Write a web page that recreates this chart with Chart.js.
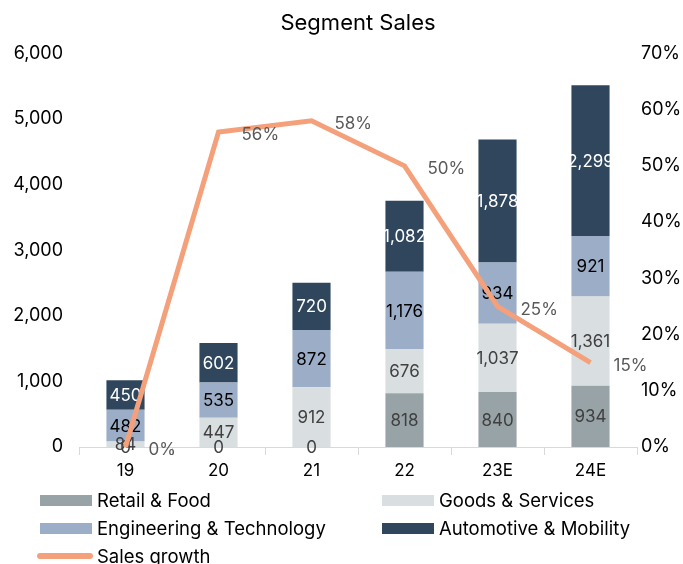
<!DOCTYPE html>
<html>
<head>
<meta charset="utf-8">
<script src="https://cdn.jsdelivr.net/npm/chart.js@4.4.1/dist/chart.umd.min.js"></script>
<style>
body { margin: 0; background: #fff; font-family: Inter, sans-serif; }
#div_canva { position: relative; width: 683px; height: 564px; }
.leg { position: absolute; font-size: 18.5px; color: #000; line-height: 22px; white-space: nowrap; }
.leg span { position: absolute; left: 0; }
</style>
</head>
<body>
<div id="div_canva">
  <canvas id="myChart"></canvas>
  <div id="legenda"></div>
</div>
<script>
const anos = ['19', '20', '21', '22', '23E', '24E'];
const varejo = [0, 0, 0, 818, 840, 934];
const bensServicos = [84, 447, 912, 676, 1037, 1361];
const engenharia = [482, 535, 872, 1176, 934, 921];
const automotivo = [450, 602, 720, 1082, 1878, 2299];
const crescimento = [0, 56, 58, 50, 25, 15];
const ticksVendas = [0, 1000, 2000, 3000, 4000, 5000, 6000];
const ticksCresc = [0, 10, 20, 30, 40, 50, 60, 70];

const fonte = 'Inter';

// desenha os valores dentro das barras e ao lado da linha
const rotulos = {
  id: 'rotulos',
  afterDatasetDraw(chart, args) {
    const ctx = chart.ctx;
    const ds = chart.data.datasets[args.index];
    ctx.save();
    ctx.font = `17px ${fonte}`;
    ctx.textBaseline = 'middle';
    args.meta.data.forEach((el, j) => {
      const v = ds.data[j];
      if (ds.type === 'line') {
        ctx.textAlign = 'left';
        ctx.fillStyle = '#595959';
        ctx.fillText(v + '%', el.x + 23, el.y + 3);
      } else {
        ctx.textAlign = 'center';
        ctx.fillStyle = ds.corRotulo;
        ctx.fillText(v.toLocaleString('en-US'), el.x, (el.y + el.base) / 2 + 1);
      }
    });
    ctx.restore();
  }
};

const ctx = document.getElementById('myChart');

new Chart(ctx, {
  type: 'bar',
  data: {
    labels: anos,
    datasets: [
      { label: 'Retail & Food', data: varejo, backgroundColor: '#97a3a6', corRotulo: '#404040', yAxisID: 'y', order: 1 },
      { label: 'Goods & Services', data: bensServicos, backgroundColor: '#d9dee0', corRotulo: '#404040', yAxisID: 'y', order: 1 },
      { label: 'Engineering & Technology', data: engenharia, backgroundColor: '#9cadc7', corRotulo: '#000000', yAxisID: 'y', order: 1 },
      { label: 'Automotive & Mobility', data: automotivo, backgroundColor: '#2f465d', corRotulo: '#ffffff', yAxisID: 'y', order: 1 },
      {
        type: 'line', label: 'Sales growth', data: crescimento, yAxisID: 'y1',
        borderColor: '#f4a07b', borderWidth: 5, pointRadius: 0, tension: 0, order: 0
      }
    ]
  },
  options: {
    responsive: true,
    maintainAspectRatio: false,
    animation: false,
    barPercentage: 0.41,
    categoryPercentage: 1,
    layout: { padding: { bottom: 79 } },
    scales: {
      x: {
        stacked: true,
        afterFit: s => { s.height = 38; },
        grid: { display: true, drawOnChartArea: false, drawTicks: true, tickLength: 8, color: '#d9d9d9', offset: true },
        border: { color: '#d9d9d9' },
        ticks: { color: '#000', font: { family: fonte, size: 17 }, padding: 6 }
      },
      y: {
        stacked: true,
        min: 0, max: 6000,
        afterFit: s => { s.width = 79; },
        afterBuildTicks: s => { s.ticks = ticksVendas.map(v => ({ value: v })); },
        grid: { display: false, drawTicks: false },
        border: { display: false },
        ticks: { color: '#000', font: { family: fonte, size: 18 }, padding: 16, callback: v => v.toLocaleString('en-US') }
      },
      y1: {
        position: 'right',
        min: 0, max: 70,
        afterFit: s => { s.width = 46; },
        afterBuildTicks: s => { s.ticks = ticksCresc.map(v => ({ value: v })); },
        grid: { display: false, drawTicks: false },
        border: { display: false },
        ticks: { color: '#000', font: { family: fonte, size: 18 }, padding: 4, callback: v => v + '%' }
      }
    },
    plugins: {
      legend: { display: false },
      tooltip: { enabled: false },
      title: {
        display: true,
        fullSize: false,
        text: 'Segment Sales',
        color: '#000',
        font: { family: fonte, size: 22, weight: 'normal' },
        padding: { top: 10, bottom: 17 }
      }
    }
  },
  plugins: [rotulos]
});

// legenda em duas colunas, como na figura
const itensLegenda = [
  { texto: 'Retail & Food', cor: '#97a3a6', x: 40, y: 500 },
  { texto: 'Goods & Services', cor: '#d9dee0', x: 382, y: 500 },
  { texto: 'Engineering & Technology', cor: '#9cadc7', x: 40, y: 528 },
  { texto: 'Automotive & Mobility', cor: '#2f465d', x: 382, y: 528 },
  { texto: 'Sales growth', cor: '#f4a07b', x: 40, y: 556, linha: true }
];
let html = '';
itensLegenda.forEach(it => {
  const marca = it.linha
    ? `<span style="top:-3px;left:-3px;width:56px;height:6px;border-radius:3px;background:${it.cor}"></span>`
    : `<span style="top:-5px;width:52px;height:11px;background:${it.cor}"></span>`;
  html += `<div class="leg" style="left:${it.x}px;top:${it.y}px">${marca}<span style="left:57px;top:-11px">${it.texto}</span></div>`;
});
document.getElementById('legenda').innerHTML = html;
</script>
</body>
</html>
